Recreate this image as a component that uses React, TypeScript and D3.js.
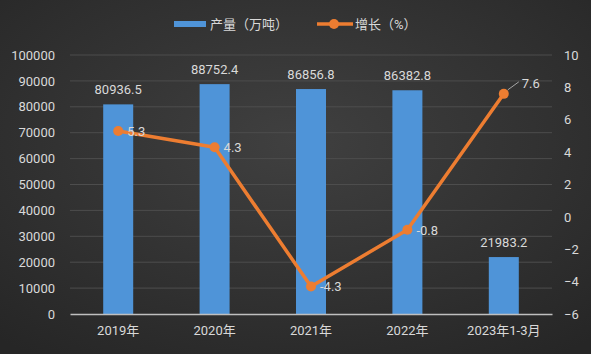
import * as d3 from 'd3'
import { useRef, useEffect } from 'react'

const categories = ['2019年', '2020年', '2021年', '2022年', '2023年1-3月']
const output = [80936.5, 88752.4, 86856.8, 86382.8, 21983.2]
const growth = [5.3, 4.3, -4.3, -0.8, 7.6]
const leftTicks = [0, 10000, 20000, 30000, 40000, 50000, 60000, 70000, 80000, 90000, 100000]
const rightTicks = [-6, -4, -2, 0, 2, 4, 6, 8, 10]

const W = 591
const H = 354
const margin = { top: 55, right: 39, bottom: 40, left: 70 }
const font = 'Roboto, "Noto Sans CJK SC", sans-serif'
const textColor = '#d9d9d9'

const App = () => {
  const leftAxis = useRef(null)
  const rightAxis = useRef(null)
  const bottomAxis = useRef(null)

  const xScale = d3.scaleBand()
    .domain(categories)
    .range([margin.left, W - margin.right])
  const yLeft = d3.scaleLinear()
    .domain([0, 100000])
    .range([H - margin.bottom, margin.top])
  const yRight = d3.scaleLinear()
    .domain([-6, 10])
    .range([H - margin.bottom, margin.top])

  const barW = 30
  const cx = (c) => xScale(c) + xScale.bandwidth() / 2

  const line = d3.line()
    .x((d, i) => cx(categories[i]))
    .y((d) => yRight(d))

  useEffect(() => {
    const la = d3.select(leftAxis.current)
    la.call(d3.axisLeft(yLeft).tickValues(leftTicks).tickSize(0).tickPadding(15).tickFormat(d3.format('d')))
    la.select('.domain').remove()
    const ra = d3.select(rightAxis.current)
    ra.call(d3.axisRight(yRight).tickValues(rightTicks).tickSize(0).tickPadding(12).tickFormat(d3.format('d')))
    ra.select('.domain').remove()
    const ba = d3.select(bottomAxis.current)
    ba.call(d3.axisBottom(xScale).tickSize(0).tickPadding(12))
    ba.select('.domain').attr('stroke', '#bfbfbf').attr('stroke-width', 1.5)
    for (const a of [la, ra, ba]) {
      a.selectAll('text').attr('fill', textColor).style('font-size', '13px').style('font-family', font)
    }
  })

  return (
    <svg width={W} height={H} style={{ position: 'absolute', left: 0, top: 0 }}>
      <defs>
        <radialGradient id="bg" cx="50%" cy="40%" r="75%">
          <stop offset="0%" stopColor="#404040" />
          <stop offset="100%" stopColor="#262626" />
        </radialGradient>
      </defs>
      <rect width={W} height={H} fill="url(#bg)" />

      {leftTicks.slice(1).map((t) => (
        <line key={t} x1={margin.left} x2={W - margin.right} y1={yLeft(t)} y2={yLeft(t)} stroke="#4d4d4d" strokeWidth={1} />
      ))}

      {output.map((v, i) => (
        <rect key={i} x={cx(categories[i]) - barW / 2} y={yLeft(v)} width={barW}
          height={yLeft(0) - yLeft(v)} fill="#4f94d8" />
      ))}

      <g ref={bottomAxis} transform={`translate(0, ${H - margin.bottom})`} />
      <g ref={leftAxis} transform={`translate(${margin.left}, 0)`} />
      <g ref={rightAxis} transform={`translate(${W - margin.right}, 0)`} />

      {output.map((v, i) => (
        <text key={i} x={cx(categories[i])} y={yLeft(v) - 10} textAnchor="middle"
          fill={textColor} fontSize={13} fontFamily={font}>{v.toFixed(1)}</text>
      ))}

      <path d={line(growth)} fill="none" stroke="#ed7d31" strokeWidth={3.5} strokeLinejoin="round" />
      {growth.map((v, i) => (
        <circle key={i} cx={cx(categories[i])} cy={yRight(v)} r={5} fill="#ed7d31" />
      ))}
      {growth.map((v, i) => {
        const last = i === growth.length - 1
        return (
          <text key={i} x={cx(categories[i]) + (last ? 18 : 9)} y={yRight(v) + (last ? -6 : 5)}
            fill={textColor} fontSize={13} fontFamily={font}>{v}</text>
        )
      })}
      {growth.length > 0 && (
        <line x1={cx(categories[4]) + 4} y1={yRight(growth[4]) - 4}
          x2={cx(categories[4]) + 15} y2={yRight(growth[4]) - 12} stroke="#a6a6a6" strokeWidth={1} />
      )}

      <g fontFamily={font} fontSize={13} fill={textColor}>
        <rect x={174} y={21} width={32} height={6} fill="#4f94d8" />
        <text x={210} y={29}>产量（万吨）</text>
        <line x1={317} x2={353} y1={24} y2={24} stroke="#ed7d31" strokeWidth={3.5} />
        <circle cx={334} cy={24} r={5} fill="#ed7d31" />
        <text x={355} y={29}>增长（%）</text>
      </g>
    </svg>
  )
}

export default App
